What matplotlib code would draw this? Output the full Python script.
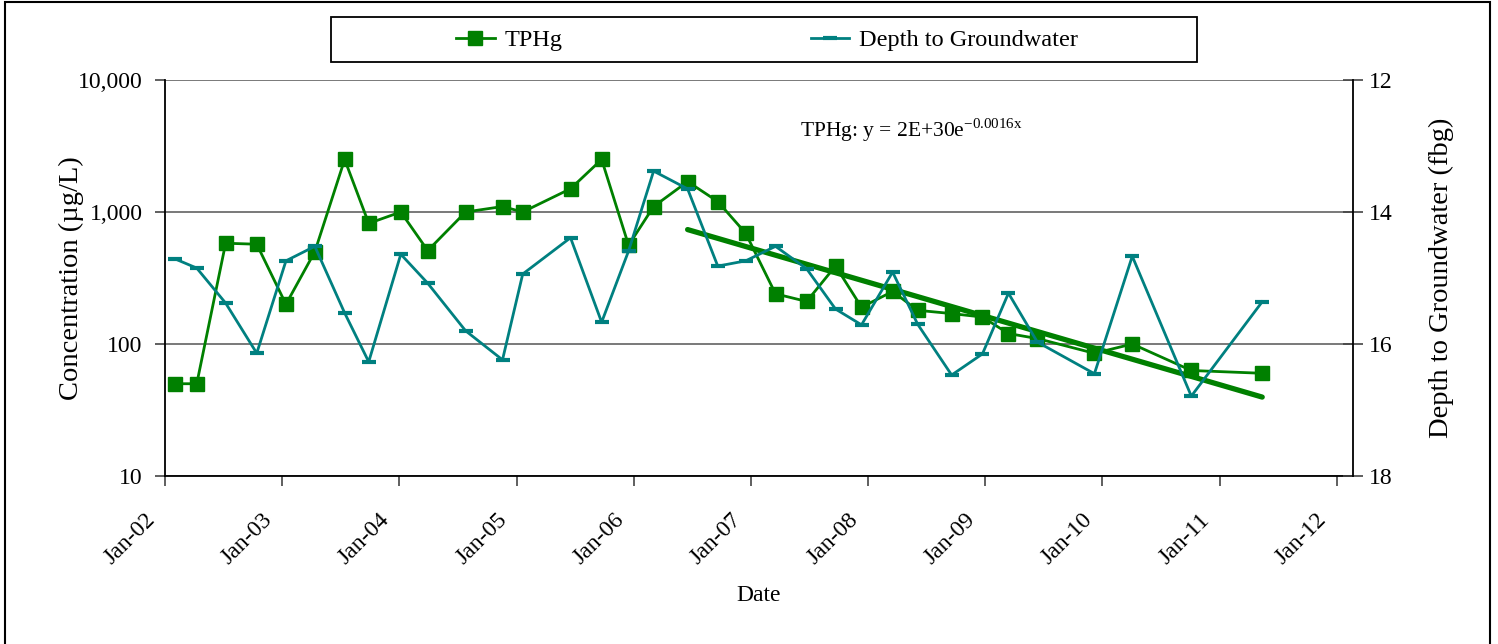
import numpy as np
import pandas as pd
import matplotlib
matplotlib.use("Agg")
import matplotlib.pyplot as plt
import matplotlib.dates as mdates
from matplotlib.patches import Rectangle
from matplotlib.ticker import FixedLocator, FuncFormatter
from matplotlib.transforms import ScaledTranslation

plt.rcParams["font.family"] = ["Liberation Serif", "DejaVu Serif"]

# ---- data ----
sample_dates = [
    "2002-02-01", "2002-04-10", "2002-07-09", "2002-10-14", "2003-01-13",
    "2003-04-13", "2003-07-15", "2003-09-28", "2004-01-06", "2004-03-30",
    "2004-07-26", "2004-11-18", "2005-01-20", "2005-06-18", "2005-09-23",
    "2005-12-16", "2006-03-04", "2006-06-18", "2006-09-20", "2006-12-16",
    "2007-03-19", "2007-06-24", "2007-09-22", "2007-12-12", "2008-03-18",
    "2008-06-04", "2008-09-18", "2008-12-23", "2009-03-14", "2009-06-12",
    "2009-12-07", "2010-04-04", "2010-10-05", "2011-05-14",
]
tphg = [
    50, 50, 580, 570, 200, 500, 2500, 820, 1000, 510,
    1000, 1100, 1000, 1500, 2500, 560, 1100, 1700, 1200, 690,
    240, 210, 390, 190, 250, 180, 170, 160, 120, 110,
    85, 100, 63, 60,
]
depth_to_gw = [
    14.71, 14.85, 15.38, 16.14, 14.74, 14.52, 15.53, 16.27, 14.64, 15.08,
    15.80, 16.24, 14.94, 14.39, 15.67, 14.59, 13.38, 13.65, 14.82, 14.74,
    14.52, 14.86, 15.47, 15.71, 14.91, 15.70, 16.47, 16.15, 15.23, 15.97,
    16.45, 14.67, 16.79, 15.36,
]
trend_start = "2006-06-18"  # exponential trend fitted from here on
conc_ticks = [10, 100, 1000, 10000]
depth_ticks = [12, 14, 16, 18]
year_ticks = [f"{y}-01-01" for y in range(2002, 2013)]

GREEN = "#008000"
TEAL = "#008080"
FS = 17

dates = pd.to_datetime(sample_dates)
tphg = np.asarray(tphg, dtype=float)
depth_to_gw = np.asarray(depth_to_gw, dtype=float)

# exponential fit (log-linear least squares) over the later part of the record
mask = dates >= pd.Timestamp(trend_start)
xnum = mdates.date2num(dates[mask])
slope, icept = np.polyfit(xnum, np.log(tphg[mask]), 1)
trend_x = np.array([xnum[0], xnum[-1]])
trend_y = np.exp(icept + slope * trend_x)

fig = plt.figure(figsize=(14.98, 6.44), dpi=100)
ax = fig.add_axes([165 / 1498, 1 - 476 / 644, (1353 - 165) / 1498, (476 - 80) / 644])
ax2 = ax.twinx()

# concentration series
ax.plot(dates, tphg, color=GREEN, lw=2, marker="s", ms=10, mec=GREEN,
        label="TPHg", zorder=3)
ax.plot(mdates.num2date(trend_x), trend_y, color=GREEN, lw=3.8,
        solid_capstyle="round", zorder=2)

# depth to groundwater
ax2.plot(dates, depth_to_gw, color=TEAL, lw=2, marker="_", ms=10, mew=3,
         label="Depth to Groundwater", zorder=3)

ax.set_yscale("log")
ax.set_ylim(10, 10000)
ax.yaxis.set_major_locator(FixedLocator(conc_ticks))
ax.yaxis.set_minor_locator(FixedLocator([]))
ax.yaxis.set_major_formatter(FuncFormatter(lambda v, p: f"{v:,.0f}"))
ax.grid(axis="y", which="major", color="#6e6e6e", lw=1.3)
ax.set_axisbelow(True)

ax.set_xlim(pd.Timestamp("2002-01-01"), pd.Timestamp("2012-02-21"))
ax.set_xticks(pd.to_datetime(year_ticks))
ax.xaxis.set_major_formatter(mdates.DateFormatter("%b-%y"))

ax2.set_ylim(18, 12)
ax2.set_yticks(depth_ticks)

for s in ["top", "right"]:
    ax.spines[s].set_visible(False)
for s in ["top", "left", "bottom"]:
    ax2.spines[s].set_visible(False)
for sp in [ax.spines["left"], ax.spines["bottom"], ax2.spines["right"]]:
    sp.set_color("black")
    sp.set_linewidth(1.3)

ax.tick_params(axis="y", direction="out", length=7, width=1.2,
               labelsize=FS, pad=9, color="#444444")
ax.tick_params(axis="x", direction="out", length=7, width=1.2,
               labelsize=FS, pad=17, color="#444444")
ax2.tick_params(axis="y", direction="inout", length=15, width=1.2,
                labelsize=FS, pad=4, color="#444444")

for lbl in ax.get_xticklabels():
    lbl.set_rotation(45)
    lbl.set_ha("right")
    lbl.set_va("top")
    lbl.set_transform(lbl.get_transform() + ScaledTranslation(-4 / 72, 0, fig.dpi_scale_trans))

ax.set_ylabel("Concentration (µg/L)", fontsize=20.5, labelpad=-4)
ax2.set_ylabel("Depth to Groundwater (fbg)", fontsize=20.5, rotation=90, labelpad=26)
ax.set_xlabel("Date", fontsize=FS, labelpad=12)

ax.annotate("TPHg: y = 2E+30e$^{\\mathregular{-0.0016x}}$", xy=(800, 644 - 130),
            xycoords="figure pixels", fontsize=15.5, va="center", ha="left")

# legend box at the top
fig.patches.append(Rectangle((331 / 1498, 1 - 62 / 644), (1197 - 331) / 1498, 45 / 644,
                             transform=fig.transFigure, fill=False,
                             edgecolor="black", lw=1.3))
h1, l1 = ax.get_legend_handles_labels()
h2, l2 = ax2.get_legend_handles_labels()
fig.legend(h1 + h2, l1 + l2, loc="center", bbox_to_anchor=(767 / 1498, 1 - 40 / 644),
           ncol=2, frameon=False, fontsize=17.5, handlelength=1.6, handletextpad=0.4,
           columnspacing=10.2, numpoints=1)

# outer frame
fig.patches.append(Rectangle((5 / 1498, -0.05), (1490 - 5) / 1498, 1.05 - 2 / 644,
                             transform=fig.transFigure, fill=False,
                             edgecolor="black", lw=1.5))

fig.savefig("out.png", dpi=100)
